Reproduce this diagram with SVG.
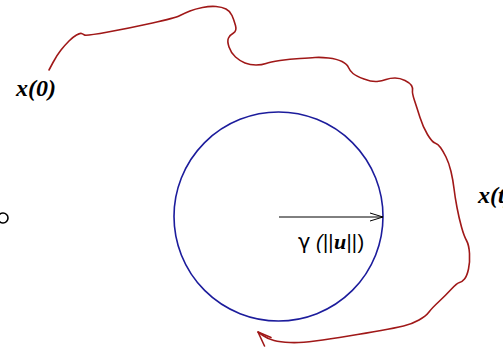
<svg xmlns="http://www.w3.org/2000/svg" width="503" height="350" viewBox="0 0 503 350">
<style>
.lbl{font-family:"Liberation Serif","Times New Roman",serif;font-weight:bold;font-style:italic;font-size:24px;fill:#000}
.traj{fill:none;stroke:#a01818;stroke-width:1.6;stroke-linejoin:round;stroke-linecap:round}
.ball{fill:none;stroke:#1c1c9c;stroke-width:1.6}
.rad{fill:none;stroke:#000;stroke-width:1}
.sans{font-family:"Liberation Sans",Arial,sans-serif;font-size:20px;fill:#000}
</style>
<defs>
<marker id="ah" markerWidth="14" markerHeight="10" refX="13" refY="5" orient="auto" markerUnits="userSpaceOnUse">
<path d="M0,1 L13,5 L0,9" fill="none" stroke="#000" stroke-width="1"/>
</marker>
</defs>
<rect width="503" height="350" fill="#fff"/>
<g id="origin">
<circle cx="3" cy="218" r="5" fill="none" stroke="#000" stroke-width="1.6"/>
</g>
<g id="ball">
<circle class="ball" cx="278.5" cy="216.5" r="104.5"/>
</g>
<g id="connectors">
<path id="trajectory" class="traj" d="M49,70 L53,62.5 Q57,55 61,50 Q65,45 69,41 Q73,37 76.5,35 Q80,33 81.5,33.5 Q83,34 84.5,35 Q86,36 108,32 Q130,28 152.5,23 Q175,18 180,15.5 Q185,13 190,11 Q195,9 202.5,7.5 Q210,6 216,6.5 Q222,7 226,9 Q230,11 232,15.5 Q234,20 235.5,25.5 Q237,31 233.5,33 Q230,35 228.5,38 Q227,41 229,47 Q231,53 235.5,57 Q240,61 245,63 Q250,65 256,65 Q262,65 266,63.5 Q270,62 280,60.5 Q290,59 300,58.5 Q310,58 315,57.5 Q320,57 328.5,58 Q337,59 342,61.5 Q347,64 348.5,67.5 Q350,71 353,73.5 Q356,76 364,79 Q372,82 377,81.5 Q382,81 386,79.5 Q390,78 395,78 Q400,78 405,80.5 Q410,83 411.5,85.5 Q413,88 412.5,90.5 Q412,93 414.5,100.5 Q417,108 420,117.5 Q423,127 427.5,134.5 Q432,142 435,143 Q438,144 440.5,147.5 Q443,151 446,157 Q449,163 451,171.5 Q453,180 454,188.5 Q455,197 457,207.5 Q459,218 461.5,227 Q464,236 466.5,240.5 Q469,245 469.5,253.5 Q470,262 468.5,269 Q467,276 464.5,279 Q462,282 459.5,282.5 Q457,283 451,289.5 Q445,296 438.5,302 Q432,308 429,312 Q426,316 419,320 Q412,324 403.5,326 Q395,328 381,330.5 Q367,333 348.5,336 Q330,339 315,341 Q300,343 290,342.5 Q280,342 274,340.5 Q268,339 263,335.5 L258,332"/>
<path id="traj-head" class="traj" d="M271,337.5 L258,332 L264.5,346"/>
<line id="radius" class="rad" x1="279" y1="217" x2="383" y2="217" marker-end="url(#ah)"/>
</g>
<g id="label-x0">
<text class="lbl" x="16" y="96">x(0)</text>
</g>
<g id="label-xt">
<text class="lbl" x="478" y="203">x(t)</text>
</g>
<g id="label-gamma">
<text class="sans" y="249"><tspan x="298" font-family="DejaVu Sans,sans-serif" font-size="21">γ</tspan><tspan x="316" font-style="italic">(</tspan><tspan x="323">||</tspan><tspan x="334" font-family="Liberation Serif,serif" font-weight="bold" font-style="italic" font-size="22">u</tspan><tspan x="346.5">||</tspan><tspan x="357.5">)</tspan></text>
</g>
</svg>
